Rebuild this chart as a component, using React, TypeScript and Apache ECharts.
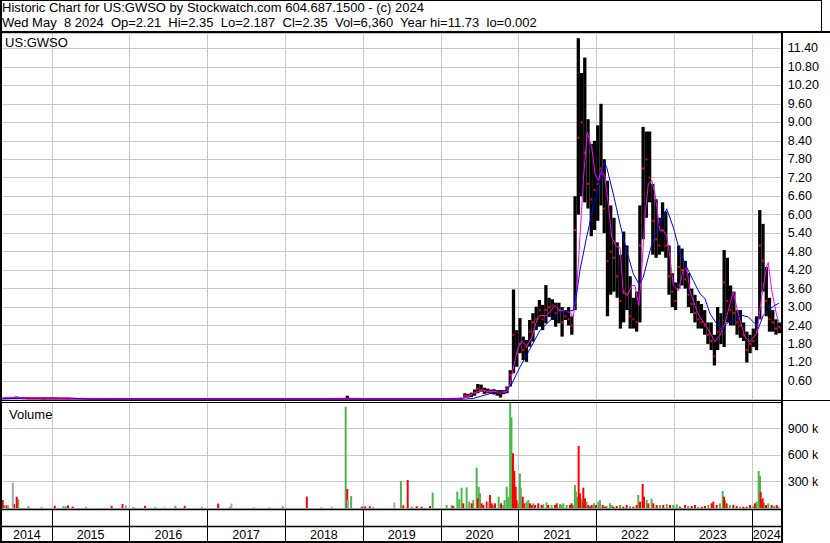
import React, { useEffect, useRef } from "react";
import * as echarts from "echarts";

// ---- header texts (no-break spaces keep the doubled gaps) ----
const headerLine1 = "Historic Chart for US:GWSO by Stockwatch.com 604.687.1500 - (c) 2024";
const headerLine2 =
  "Wed May\u00a0 8 2024\u00a0 Op=2.21\u00a0 Hi=2.35\u00a0 Lo=2.187\u00a0 Cl=2.35\u00a0 Vol=6,360\u00a0 Year hi=11.73\u00a0 lo=0.002";
const symbolLabel = "US:GWSO";
const volumeLabel = "Volume";

// ---- time range (decimal years) ----
const yearStart = 2014.361;
const yearEnd = 2024.386;
const yearBoundaries = [2015, 2016, 2017, 2018, 2019, 2020, 2021, 2022, 2023, 2024];
const yearLabels = [2014, 2015, 2016, 2017, 2018, 2019, 2020, 2021, 2022, 2023, 2024];

// ---- early, thinly traded period (sparse samples) ----
const earlyDates = [2014.40, 2014.55, 2014.70, 2014.90, 2015.20, 2015.60, 2016.00, 2016.50, 2017.00, 2017.50, 2018.00, 2018.50, 2018.80, 2019.00, 2019.50, 2019.90, 2020.10, 2020.25];
const earlyHi = [0.06, 0.09, 0.05, 0.04, 0.03, 0.02, 0.02, 0.02, 0.02, 0.02, 0.02, 0.02, 0.12, 0.02, 0.03, 0.03, 0.03, 0.05];
const earlyLo = [0.02, 0.02, 0.02, 0.01, 0.01, 0.005, 0.005, 0.005, 0.005, 0.005, 0.005, 0.005, 0.005, 0.005, 0.005, 0.005, 0.005, 0.01];
const earlyClose = [0.04, 0.05, 0.03, 0.02, 0.02, 0.01, 0.01, 0.01, 0.01, 0.01, 0.01, 0.01, 0.02, 0.01, 0.01, 0.01, 0.01, 0.02];

// ---- half-monthly price ranges from Jan 2020 ----
const rangeStart = 2020;
const rangesPerYear = 24;
const rangeHi = [
  0.03, 0.03, 0.02, 0.03, 0.03, 0.03, 0.05, 0.20, 0.18, 0.22, 0.32, 0.50, 0.48, 0.38, 0.35, 0.32, 0.33, 0.30, 0.30, 0.30, 0.42, 0.95, 3.57, 2.25,
  2.64, 2.04, 1.93, 2.58, 2.80, 3.01, 3.23, 3.07, 3.71, 3.30, 3.25, 3.14, 3.14, 3.00, 2.90, 3.00, 2.70, 6.60, 11.73, 10.60, 11.10, 9.10, 8.30, 8.40,
  8.90, 9.60, 7.80, 7.10, 6.30, 5.90, 5.10, 4.70, 5.45, 5.00, 4.00, 3.30, 3.50, 6.30, 8.85, 8.70, 8.70, 7.00, 6.50, 5.90, 6.40, 6.10, 5.00, 4.10,
  3.80, 5.00, 4.90, 4.50, 4.10, 3.60, 3.40, 3.20, 3.10, 2.90, 2.50, 2.50, 2.10, 3.00, 2.80, 4.85, 4.60, 3.70, 3.50, 2.90, 2.90, 2.50, 2.20, 2.10,
  2.30, 2.70, 6.15, 5.70, 4.30, 3.30, 2.90, 2.60, 2.50,
];
const rangeLo = [
  0.005, 0.005, 0.005, 0.005, 0.005, 0.005, 0.01, 0.05, 0.06, 0.08, 0.12, 0.20, 0.25, 0.18, 0.20, 0.18, 0.16, 0.12, 0.06, 0.17, 0.20, 0.42, 0.85, 1.06,
  1.50, 1.28, 1.22, 1.71, 1.88, 2.25, 2.36, 2.25, 2.47, 2.68, 2.58, 2.36, 2.47, 2.04, 2.58, 2.40, 2.10, 2.90, 6.00, 6.60, 6.40, 6.20, 5.30, 5.50,
  5.80, 6.30, 5.40, 2.70, 3.40, 3.50, 3.30, 2.30, 2.50, 2.90, 2.30, 2.30, 2.20, 2.50, 5.20, 5.90, 6.40, 4.70, 4.60, 4.70, 4.80, 4.60, 3.40, 3.00,
  2.90, 3.60, 3.70, 3.60, 3.00, 2.80, 2.50, 2.30, 2.30, 2.10, 1.80, 1.60, 1.10, 1.60, 1.80, 1.70, 2.50, 2.40, 2.40, 2.10, 2.00, 1.90, 1.20, 1.50,
  1.70, 1.60, 2.60, 3.50, 2.70, 2.20, 2.20, 2.10, 2.15,
];
const rangeClose = [
  0.01, 0.01, 0.01, 0.01, 0.01, 0.01, 0.02, 0.12, 0.10, 0.15, 0.22, 0.35, 0.30, 0.28, 0.25, 0.24, 0.25, 0.22, 0.20, 0.24, 0.35, 0.80, 2.10, 1.50,
  1.80, 1.60, 1.70, 2.20, 2.50, 2.60, 2.90, 2.60, 2.90, 3.00, 3.05, 2.80, 2.90, 2.50, 2.70, 2.60, 2.40, 5.50, 8.50, 9.00, 8.00, 7.00, 6.50, 6.80,
  7.00, 7.50, 6.20, 4.50, 4.80, 4.60, 4.00, 3.20, 3.50, 3.40, 2.70, 2.60, 2.50, 5.00, 7.50, 7.80, 7.20, 5.80, 5.20, 5.00, 5.50, 5.00, 4.00, 3.50,
  3.20, 4.30, 4.20, 3.90, 3.40, 3.10, 2.80, 2.60, 2.50, 2.40, 2.10, 1.90, 1.40, 2.20, 2.30, 3.80, 3.20, 2.90, 2.80, 2.50, 2.40, 2.10, 1.60, 1.80,
  1.90, 2.20, 5.00, 4.50, 3.20, 2.60, 2.50, 2.30, 2.35,
];

// ---- moving averages [date, price] ----
const maShort = [
  [2014.361, 0.05], [2015.05, 0.045], [2015.15, 0.015], [2016.0, 0.01], [2017.0, 0.01], [2018.0, 0.01], [2019.0, 0.01], [2020.27, 0.01],
  [2020.35, 0.1], [2020.42, 0.2], [2020.545, 0.3], [2020.635, 0.25], [2020.85, 0.25], [2020.893, 0.5], [2020.957, 1.27], [2021.0, 1.7],
  [2021.043, 1.9], [2021.107, 1.73], [2021.171, 2.0], [2021.236, 2.56], [2021.278, 2.72], [2021.364, 2.72], [2021.471, 3.05], [2021.535, 2.89],
  [2021.664, 2.83], [2021.706, 2.67], [2021.75, 3.53], [2021.792, 5.27], [2021.835, 7.11], [2021.886, 8.68], [2021.943, 8.2], [2021.985, 7.33],
  [2022.028, 7.11], [2022.071, 7.44], [2022.114, 7.22], [2022.156, 6.35], [2022.2, 5.27], [2022.264, 4.96], [2022.307, 4.94], [2022.349, 3.44],
  [2022.413, 3.42], [2022.457, 3.7], [2022.5, 3.7], [2022.521, 3.38], [2022.55, 3.05], [2022.586, 4.2], [2022.628, 5.93], [2022.671, 7.0],
  [2022.714, 7.11], [2022.757, 6.67], [2022.821, 5.48], [2022.863, 5.48], [2022.907, 5.32], [2022.949, 4.62], [2022.992, 3.7], [2023.056, 3.53],
  [2023.12, 4.19], [2023.164, 4.3], [2023.206, 3.53], [2023.292, 2.89], [2023.335, 2.68], [2023.421, 2.36], [2023.528, 1.87], [2023.592, 2.08],
  [2023.656, 2.46], [2023.699, 2.89], [2023.763, 3.49], [2023.807, 3.0], [2023.849, 2.57], [2023.913, 2.03], [2023.978, 1.87], [2024.064, 2.14],
  [2024.128, 3.33], [2024.192, 4.3], [2024.213, 4.45], [2024.257, 3.55], [2024.321, 2.73], [2024.35, 2.52],
];
const maLong = [
  [2014.361, 0.02], [2014.7, 0.045], [2015.2, 0.045], [2015.5, 0.01], [2016.0, 0.01], [2018.0, 0.01], [2020.3, 0.01], [2020.42, 0.03],
  [2020.635, 0.19], [2020.85, 0.3], [2020.914, 0.5], [2021.021, 1.05], [2021.15, 1.64], [2021.278, 2.24], [2021.407, 2.56], [2021.535, 2.83],
  [2021.706, 2.89], [2021.75, 3.43], [2021.792, 4.19], [2021.878, 5.27], [2021.963, 6.24], [2022.049, 7.11], [2022.105, 7.7], [2022.136, 7.54],
  [2022.221, 6.67], [2022.307, 5.7], [2022.393, 4.83], [2022.478, 4.08], [2022.555, 3.73], [2022.606, 3.97], [2022.693, 4.83], [2022.778, 5.48],
  [2022.863, 5.92], [2022.907, 6.19], [2022.992, 5.59], [2023.078, 4.78], [2023.164, 4.3], [2023.249, 3.86], [2023.335, 3.43], [2023.399, 3.28],
  [2023.463, 2.79], [2023.55, 2.46], [2023.614, 2.25], [2023.678, 2.46], [2023.763, 2.57], [2023.871, 2.73], [2023.956, 2.68], [2024.042, 2.46],
  [2024.085, 2.3], [2024.149, 2.73], [2024.213, 2.89], [2024.299, 3.06], [2024.35, 3.12],
];

// ---- volume [date, thousands of shares] ----
const volUp = [
  [2014.39, 34], [2014.57, 98], [2014.70, 20], [2015.15, 20], [2015.18, 20], [2016.33, 8], [2016.59, 25], [2017.97, 20],
  [2018.78, 1147], [2018.85, 136], [2019.49, 306],
  [2019.898, 175], [2020.078, 34], [2020.143, 34], [2020.215, 185], [2020.24, 100], [2020.27, 230], [2020.335, 234], [2020.369, 72],
  [2020.42, 90], [2020.464, 457], [2020.49, 241], [2020.507, 166], [2020.678, 34], [2020.747, 128], [2020.806, 34], [2020.823, 90],
  [2020.85, 241], [2020.87, 128], [2020.895, 1300], [2020.911, 1026], [2021.003, 53], [2021.02, 392], [2021.03, 230], [2021.107, 72],
  [2021.128, 90], [2021.192, 53], [2021.32, 41], [2021.364, 64], [2021.428, 34], [2021.535, 45], [2021.557, 34], [2021.578, 53],
  [2021.621, 34], [2021.706, 34], [2021.728, 260], [2021.74, 185], [2021.757, 128], [2021.805, 109], [2021.822, 72], [2021.878, 72],
  [2021.972, 53], [2022.028, 72], [2022.049, 90], [2022.135, 23], [2022.178, 53], [2022.2, 34], [2022.307, 34], [2022.435, 23],
  [2022.542, 147], [2022.65, 90], [2022.714, 105], [2022.821, 34], [2022.907, 45], [2022.992, 34], [2023.035, 41], [2023.185, 23],
  [2023.313, 15], [2023.442, 34], [2023.592, 53], [2023.627, 192], [2023.656, 90], [2023.72, 34], [2023.849, 15], [2024.013, 23],
  [2024.064, 72], [2024.09, 419], [2024.107, 362], [2024.128, 90], [2024.158, 60], [2024.213, 53], [2024.286, 23], [2024.342, 15],
];
const volDown = [
  [2014.37, 90], [2014.42, 30], [2014.515, 45], [2014.55, 128], [2015.04, 25], [2015.21, 30], [2015.27, 15], [2015.77, 25],
  [2015.91, 45], [2016.05, 8], [2016.2, 25], [2016.71, 25], [2017.14, 50], [2017.29, 8], [2018.28, 130], [2018.8, 215],
  [2018.99, 15], [2019.03, 20], [2019.09, 20], [2019.52, 30], [2019.577, 317], [2019.628, 8], [2019.693, 20],
  [2019.757, 15], [2019.864, 23], [2020.163, 23], [2020.292, 53], [2020.40, 53], [2020.477, 109], [2020.528, 53], [2020.549, 34],
  [2020.593, 72], [2020.635, 147], [2020.657, 53], [2020.7, 53], [2020.777, 53], [2020.931, 619], [2020.948, 419], [2020.966, 241],
  [2020.978, 90], [2021.056, 128], [2021.077, 53], [2021.149, 53], [2021.171, 34], [2021.214, 34], [2021.256, 53], [2021.3, 34],
  [2021.385, 34], [2021.471, 34], [2021.493, 53], [2021.664, 34], [2021.685, 53], [2021.775, 702], [2021.792, 166], [2021.835, 230],
  [2021.857, 109], [2021.899, 34], [2021.921, 15], [2021.943, 34], [2021.998, 34], [2022.084, 34], [2022.114, 15], [2022.221, 15],
  [2022.264, 23], [2022.349, 15], [2022.393, 34], [2022.478, 15], [2022.521, 34], [2022.564, 72], [2022.598, 272], [2022.615, 128],
  [2022.671, 53], [2022.735, 53], [2022.778, 34], [2022.863, 34], [2022.949, 34], [2023.078, 15], [2023.142, 34], [2023.228, 23],
  [2023.271, 34], [2023.357, 15], [2023.399, 23], [2023.485, 53], [2023.506, 72], [2023.55, 34], [2023.644, 128], [2023.678, 53],
  [2023.763, 34], [2023.807, 23], [2023.892, 15], [2023.935, 15], [2023.978, 34], [2024.042, 53], [2024.115, 185], [2024.141, 109],
  [2024.184, 34], [2024.257, 34], [2024.321, 34],
];
const volFlat = [
  [2014.44, 30], [2014.5, 287], [2014.87, 15], [2015.44, 15], [2015.955, 30], [2016.45, 8], [2016.93, 15], [2017.31, 50],
  [2017.6, 8], [2017.8, 8], [2018.47, 10], [2018.6, 15], [2018.81, 94], [2019.135, 15], [2019.405, 64], [2020.614, 72],
];

const FONT = "Arial, 'Liberation Sans', sans-serif";

export default function App() {
  const ref = useRef<HTMLDivElement>(null);

  useEffect(() => {
    const chart = echarts.init(ref.current!, null, { renderer: "svg" });

    const bars = [
      ...earlyDates.map((d, i) => [d, earlyHi[i], earlyLo[i], earlyClose[i]]),
      ...rangeHi.map((h, i) => [rangeStart + (i + 0.5) / rangesPerYear, h, rangeLo[i], rangeClose[i]]),
    ];
    const earlyCloseLine = earlyDates.map((d, i) => [d, earlyClose[i]]);
    const volData = [
      ...volUp.map(([d, v]) => [d, v * 1000, 0]),
      ...volDown.map(([d, v]) => [d, v * 1000, 1]),
      ...volFlat.map(([d, v]) => [d, v * 1000, 2]),
    ];
    const volColors = ["#4cb84c", "#ff0000", "#a8a8a8"];
    const volMax = 1200000;

    const yearLines = (idx: number, color: string) => ({
      type: "custom",
      xAxisIndex: idx,
      yAxisIndex: idx,
      silent: true,
      z: 1,
      data: yearBoundaries.map((y) => [y]),
      renderItem: (params: any, api: any) => {
        const x = Math.round(api.coord([api.value(0), 0])[0]) + 0.5;
        const cs = params.coordSys;
        return {
          type: "line",
          shape: { x1: x, y1: cs.y, x2: x, y2: cs.y + cs.height },
          style: { stroke: color, lineWidth: 1 },
        };
      },
    });

    const xAxisBase = { type: "value", min: yearStart, max: yearEnd, show: false };
    const gridBase = { left: 2, right: 48.3, show: false };

    const line = (x1: number, y1: number, x2: number, y2: number, w: number) => ({
      type: "line",
      silent: true,
      z: 100,
      shape: { x1, y1, x2, y2 },
      style: { stroke: "#000", lineWidth: w },
    });

    const axisLabelBase = { margin: 6, color: "#000", fontSize: 12.5, fontFamily: FONT };

    chart.setOption({
      animation: false,
      backgroundColor: "#fff",
      grid: [
        { ...gridBase, top: 33, height: 366.4 },
        { ...gridBase, top: 402, height: 106 },
        { ...gridBase, top: 510, height: 32 },
      ],
      xAxis: [
        { ...xAxisBase, gridIndex: 0 },
        { ...xAxisBase, gridIndex: 1 },
        { ...xAxisBase, gridIndex: 2 },
      ],
      yAxis: [
        {
          type: "value",
          gridIndex: 0,
          position: "right",
          min: 0,
          max: 11.9,
          interval: 0.6,
          axisLine: { show: false },
          axisTick: { show: false },
          axisLabel: {
            ...axisLabelBase,
            formatter: (v: number) => {
              const r = v / 0.6;
              return v > 0 && Math.abs(r - Math.round(r)) < 1e-6 ? v.toFixed(2) : "";
            },
          },
          splitLine: { show: true, lineStyle: { color: "#c8c8c8", width: 1 } },
        },
        {
          type: "value",
          gridIndex: 1,
          position: "right",
          min: 0,
          max: volMax,
          interval: 300000,
          axisLine: { show: false },
          axisTick: { show: false },
          axisLabel: {
            ...axisLabelBase,
            formatter: (v: number) => (v > 0 && v < volMax ? `${Math.round(v / 1000)} k` : ""),
          },
          splitLine: { show: true, lineStyle: { color: "#c8c8c8", width: 1 } },
        },
        { type: "value", gridIndex: 2, min: 0, max: 1, show: false },
      ],
      series: [
        yearLines(0, "#c8c8c8"),
        yearLines(1, "#c8c8c8"),
        yearLines(2, "#000"),
        {
          // daily range bars with close marks
          type: "custom",
          xAxisIndex: 0,
          yAxisIndex: 0,
          z: 3,
          silent: true,
          data: bars,
          renderItem: (params: any, api: any) => {
            const d = api.value(0);
            const top = api.coord([d, api.value(1)]);
            const bot = api.coord([d, api.value(2)]);
            const c = api.coord([d, api.value(3)]);
            const w = 3.3;
            return {
              type: "group",
              children: [
                {
                  type: "rect",
                  shape: { x: top[0] - w / 2, y: top[1], width: w, height: Math.max(1, bot[1] - top[1]) },
                  style: { fill: "#000" },
                },
                {
                  type: "rect",
                  shape: { x: c[0] - 1, y: c[1] - 1, width: 2, height: 2 },
                  style: { fill: "#ff0000" },
                },
              ],
            };
          },
        },
        {
          type: "line",
          xAxisIndex: 0,
          yAxisIndex: 0,
          z: 4,
          silent: true,
          showSymbol: false,
          data: earlyCloseLine,
          lineStyle: { color: "#ff0000", width: 2 },
        },
        {
          type: "line",
          xAxisIndex: 0,
          yAxisIndex: 0,
          z: 5,
          silent: true,
          showSymbol: false,
          data: maShort,
          lineStyle: { color: "#ff00ff", width: 1 },
        },
        {
          type: "line",
          xAxisIndex: 0,
          yAxisIndex: 0,
          z: 6,
          silent: true,
          showSymbol: false,
          data: maLong,
          lineStyle: { color: "#0000ff", width: 1 },
        },
        {
          // volume bars
          type: "custom",
          xAxisIndex: 1,
          yAxisIndex: 1,
          z: 3,
          silent: true,
          data: volData,
          renderItem: (params: any, api: any) => {
            const d = api.value(0);
            const p1 = api.coord([d, api.value(1)]);
            const p0 = api.coord([d, 0]);
            const cs = params.coordSys;
            const shape = echarts.graphic.clipRectByRect(
              { x: p1[0] - 1, y: p1[1], width: 2, height: p0[1] - p1[1] },
              { x: cs.x, y: cs.y, width: cs.width, height: cs.height }
            );
            if (!shape) return null;
            return { type: "rect", shape, style: { fill: volColors[api.value(2)] } };
          },
        },
        {
          // year captions in the date strip
          type: "custom",
          xAxisIndex: 2,
          yAxisIndex: 2,
          z: 3,
          silent: true,
          data: yearLabels.map((y) => [(Math.max(y, yearStart) + Math.min(y + 1, yearEnd)) / 2, y]),
          renderItem: (params: any, api: any) => {
            const p = api.coord([api.value(0), 0]);
            const cs = params.coordSys;
            return {
              type: "text",
              x: p[0],
              y: cs.y + 24.5,
              style: {
                text: String(api.value(1)),
                fill: "#000",
                font: `12.5px ${FONT}`,
                align: "center",
                verticalAlign: "middle",
              },
            };
          },
        },
      ],
      graphic: {
        elements: [
          { type: "text", x: 2, y: 7.5, z: 100, silent: true, style: { text: headerLine1, fill: "#000", font: `13px ${FONT}`, verticalAlign: "middle" } },
          { type: "text", x: 2, y: 22.5, z: 100, silent: true, style: { text: headerLine2, fill: "#000", font: `13px ${FONT}`, verticalAlign: "middle" } },
          { type: "text", x: 5, y: 42.5, z: 100, silent: true, style: { text: symbolLabel, fill: "#000", font: `13px ${FONT}`, verticalAlign: "middle" } },
          { type: "text", x: 9, y: 414, z: 100, silent: true, style: { text: volumeLabel, fill: "#000", font: `13px ${FONT}`, verticalAlign: "middle" } },
          line(0, 0.5, 822, 0.5, 1),
          line(821.5, 0, 821.5, 32, 1),
          line(1, 0, 1, 543, 2),
          line(0, 32, 830, 32, 2),
          line(782, 31, 782, 543, 2),
          line(0, 400.5, 830, 400.5, 1),
          line(0, 402.5, 782, 402.5, 1),
          line(0, 509.5, 782, 509.5, 1.5),
          line(0, 526.5, 782, 526.5, 1.5),
          line(0, 542, 782, 542, 2),
        ],
      },
    });

    return () => chart.dispose();
  }, []);

  return (
    <div
      ref={ref}
      style={{ position: "fixed", left: 0, top: 0, width: 830, height: 543, background: "#fff" }}
    />
  );
}
